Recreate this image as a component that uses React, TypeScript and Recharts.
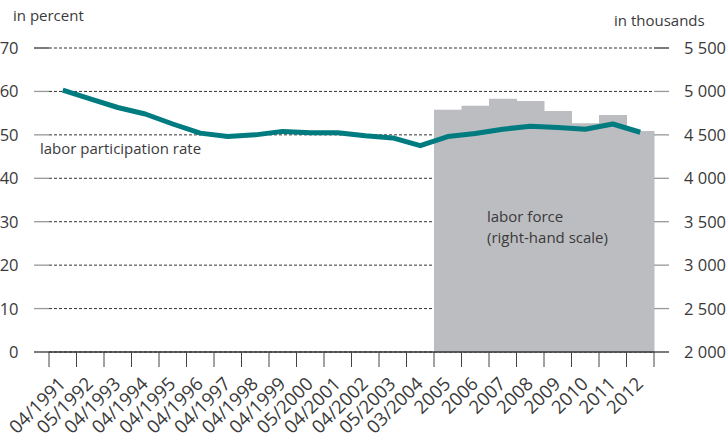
import { ComposedChart, Bar, Line, XAxis, YAxis, CartesianGrid } from "recharts";

const categories = [
  "04/1991", "05/1992", "04/1993", "04/1994", "04/1995", "04/1996", "04/1997",
  "04/1998", "04/1999", "05/2000", "04/2001", "04/2002", "05/2003", "03/2004",
  "2005", "2006", "2007", "2008", "2009", "2010", "2011", "2012",
];

// labor participation rate, in percent (left scale)
const participationRate = [
  60.3, 58.3, 56.3, 54.8, 52.5, 50.4, 49.6, 50.0, 50.8, 50.5, 50.5,
  49.8, 49.3, 47.5, 49.6, 50.3, 51.3, 52.0, 51.7, 51.3, 52.5, 50.6,
];

// labor force, in thousands (right scale), only from 2005 on
const laborForce = [
  null, null, null, null, null, null, null, null, null, null, null, null, null, null,
  4790, 4835, 4915, 4890, 4775, 4635, 4730, 4545,
];

const leftTicks = [0, 10, 20, 30, 40, 50, 60, 70];
const rightTicks = [2000, 2500, 3000, 3500, 4000, 4500, 5000, 5500];

const data = categories.map((c, i) => ({
  period: c,
  rate: participationRate[i],
  force: laborForce[i],
}));

const W = 728;
const H = 437;
const PLOT_TOP = 48;
const PLOT_BOTTOM = 352;
const PLOT_LEFT = 49;
const PLOT_RIGHT = 654;
const BAND = (PLOT_RIGHT - PLOT_LEFT) / categories.length;

const FONT = "'Open Sans', sans-serif";
const TEXT = "#3a3a3a";
const TEAL = "#007b7f";
const GREY = "#bcbdc1";

const fmtThousands = (v: number) => {
  const s = String(v);
  return s.length > 3 ? s.slice(0, s.length - 3) + " " + s.slice(-3) : s;
};

function LeftTick(props: any) {
  const { y, payload, index } = props;
  const edge = index === 0 || index === leftTicks.length - 1;
  return (
    <g>
      <line x1={34} x2={PLOT_LEFT} y1={y} y2={y} stroke={edge ? "#333" : "#999"} strokeWidth={1.3} />
      <text x={18.5} y={y} dy="0.36em" textAnchor="end" fontSize={16.5} fill={TEXT} fontFamily={FONT}>
        {payload.value}
      </text>
    </g>
  );
}

function RightTick(props: any) {
  const { y, payload, index } = props;
  const edge = index === 0 || index === rightTicks.length - 1;
  return (
    <g>
      <line x1={PLOT_RIGHT} x2={669} y1={y} y2={y} stroke={edge ? "#333" : "#999"} strokeWidth={1.3} />
      <text x={684} y={y} dy="0.36em" textAnchor="start" fontSize={16.5} fill={TEXT} fontFamily={FONT}>
        {fmtThousands(payload.value)}
      </text>
    </g>
  );
}

function BottomTick(props: any) {
  const { x, payload, index } = props;
  const last = index === categories.length - 1;
  const tx = x + 4;
  const ty = 385;
  return (
    <g>
      <line x1={x - BAND / 2} x2={x - BAND / 2} y1={PLOT_BOTTOM} y2={367} stroke="#444" />
      {last && <line x1={x + BAND / 2} x2={x + BAND / 2} y1={PLOT_BOTTOM} y2={367} stroke="#444" />}
      <text
        x={tx}
        y={ty}
        textAnchor="end"
        fontSize={18.5}
        fill={TEXT}
        fontFamily={FONT}
        transform={`rotate(-45, ${tx}, ${ty})`}
      >
        {payload.value}
      </text>
    </g>
  );
}

export default function App() {
  return (
    <div style={{ position: "absolute", left: 0, top: 0, width: W, height: H, background: "#fff", overflow: "hidden" }}>
      <ComposedChart
        width={W}
        height={H}
        data={data}
        margin={{ top: PLOT_TOP, right: 0, bottom: 0, left: 0 }}
        barCategoryGap={0}
        barGap={0}
      >
        <CartesianGrid yAxisId="left" vertical={false} stroke="#333" strokeDasharray="3 2" />
        <XAxis
          dataKey="period"
          height={H - PLOT_BOTTOM}
          interval={0}
          tickLine={false}
          axisLine={{ stroke: "#333", strokeWidth: 1.3 }}
          tick={<BottomTick />}
        />
        <YAxis
          yAxisId="left"
          width={PLOT_LEFT}
          domain={[0, 70]}
          ticks={leftTicks}
          axisLine={false}
          tickLine={false}
          tick={<LeftTick />}
        />
        <YAxis
          yAxisId="right"
          orientation="right"
          width={W - PLOT_RIGHT}
          domain={[2000, 5500]}
          ticks={rightTicks}
          axisLine={false}
          tickLine={false}
          tick={<RightTick />}
        />
        <Bar yAxisId="right" dataKey="force" fill={GREY} isAnimationActive={false} />
        <Line
          yAxisId="left"
          dataKey="rate"
          type="linear"
          stroke={TEAL}
          strokeWidth={5}
          strokeLinejoin="round"
          dot={false}
          activeDot={false}
          isAnimationActive={false}
        />
      </ComposedChart>
      <svg
        width={W}
        height={H}
        style={{ position: "absolute", left: 0, top: 0, pointerEvents: "none" }}
        fontFamily={FONT}
        fill={TEXT}
      >
        <text x={13} y={20.5} fontSize={15}>in percent</text>
        <text x={614} y={25.5} fontSize={15}>in thousands</text>
        <text x={40} y={154} fontSize={15}>labor participation rate</text>
        <text x={487} y={222} fontSize={15}>labor force</text>
        <text x={487} y={243} fontSize={15}>(right-hand scale)</text>
      </svg>
    </div>
  );
}
